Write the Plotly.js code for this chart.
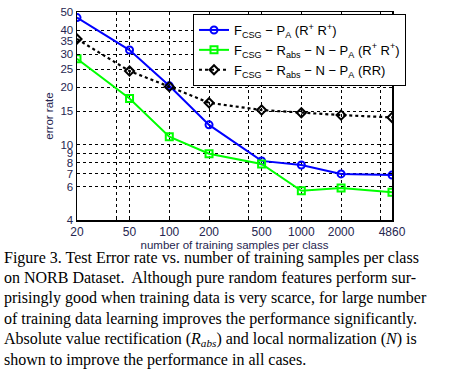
<!DOCTYPE html>
<html>
<head>
<meta charset="utf-8">
<script src="https://cdn.plot.ly/plotly-3.0.1.min.js"></script>
<style>
html,body{margin:0;padding:0;background:#fff;}
#chart{width:458px;height:371px;}
</style>
</head>
<body>
<div id="chart"></div>
<script>
// Data
const samples = [20, 50, 100, 200, 500, 1000, 2000, 4860];
const errPA = [46.7, 31.5, 20.4, 12.7, 8.2, 7.8, 7.0, 6.9];
const errRabsNPA = [28.3, 17.5, 11.0, 8.95, 7.9, 5.7, 5.9, 5.6];
const errRabsNPARR = [36.0, 24.4, 20.2, 16.6, 15.2, 14.7, 14.3, 13.9];

const xTickVals = [20, 40, 50, 100, 200, 400, 500, 1000, 2000, 4000, 4860];
const xTickText = ['20', '', '50', '100', '200', '', '500', '1000', '2000', '', '4860'];
const yTickVals = [4, 6, 7, 8, 9, 10, 15, 20, 25, 30, 35, 40, 50];
const yTickText = ['4', '6', '7', '8', '9', '10', '15', '20', '25', '30', '35', '40', '50'];

const seriesNames = [
  'F<sub>CSG</sub> − P<sub>A</sub> (R<sup>+</sup> R<sup>+</sup>)',
  'F<sub>CSG</sub> − R<sub>abs</sub> − N − P<sub>A</sub> (R<sup>+</sup> R<sup>+</sup>)',
  'F<sub>CSG</sub> − R<sub>abs</sub> − N − P<sub>A</sub> (RR)'
];

const captionLines = [
  'Figure 3. Test Error rate vs. number of training samples per class',
  'on NORB Dataset.  Although pure random features perform sur-',
  'prisingly good when training data is very scarce, for large number',
  'of training data learning improves the performance significantly.',
  'Absolute value rectification (<i>R</i><sub><i>abs</i></sub>) and local normalization (<i>N</i>) is',
  'shown to improve the performance in all cases.'
];

const traces = [
  {x: samples, y: errPA, name: seriesNames[0], mode: 'lines+markers',
   line: {color: '#0000ff', width: 2},
   marker: {symbol: 'circle-open', size: 7, color: '#0000ff', line: {width: 2, color: '#0000ff'}}},
  {x: samples, y: errRabsNPA, name: seriesNames[1], mode: 'lines+markers',
   line: {color: '#00ff00', width: 2},
   marker: {symbol: 'square-open', size: 7, color: '#00ff00', line: {width: 2, color: '#00ff00'}}},
  {x: samples, y: errRabsNPARR, name: seriesNames[2], mode: 'lines+markers',
   line: {color: '#000000', width: 2.2, dash: 'dot'},
   marker: {symbol: 'diamond-open', size: 7, color: '#000000', line: {width: 2, color: '#000000'}}}
];

const L = 77, R = 392, T = 12, B = 220, W = 458, H = 371;
const pw = R - L, ph = B - T;
const px2x = p => (p - L) / pw;
const py2y = p => (B - p) / ph;

const annotations = captionLines.map((t, i) => ({
  text: t, xref: 'paper', yref: 'paper',
  x: px2x(2), y: py2y(257.5 + i * 20.4),
  xanchor: 'left', yanchor: 'middle', align: 'left', showarrow: false,
  font: {family: 'Liberation Serif, Times New Roman, serif', size: 16, color: '#000'}
}));

const tickFont = {family: 'Liberation Sans, Arial, sans-serif', size: 12, color: '#262650'};
const yTickFont = {family: 'Liberation Sans, Arial, sans-serif', size: 11.5, color: '#262650'};

const layout = {
  width: W, height: H,
  margin: {l: L, r: W - R, t: T, b: H - B, pad: 0},
  paper_bgcolor: '#fff', plot_bgcolor: '#fff',
  showlegend: true,
  legend: {
    x: px2x(193), y: py2y(14), xanchor: 'left', yanchor: 'top',
    bgcolor: '#fff', bordercolor: '#000', borderwidth: 1,
    font: {family: 'Liberation Sans, Arial, sans-serif', size: 13, color: '#000'},
    tracegroupgap: 0, itemwidth: 30
  },
  xaxis: {
    type: 'log', range: [Math.log10(20), Math.log10(4860)],
    tickmode: 'array', tickvals: xTickVals, ticktext: xTickText, tickangle: 0,
    showgrid: true, gridcolor: '#000', griddash: 'dot', gridwidth: 1,
    showline: true, linecolor: '#000', linewidth: 1.5, mirror: 'ticks',
    ticks: 'inside', ticklen: 3, tickcolor: '#000',
    tickfont: tickFont, zeroline: false, automargin: false,
    title: {text: 'number of training samples per class', standoff: 0,
            font: {family: 'Liberation Sans, Arial, sans-serif', size: 11.5, color: '#262650'}}
  },
  yaxis: {
    type: 'log', range: [Math.log10(4), Math.log10(50)],
    tickmode: 'array', tickvals: yTickVals, ticktext: yTickText,
    showgrid: true, gridcolor: '#000', griddash: 'dot', gridwidth: 1,
    showline: true, linecolor: '#000', linewidth: 1.5, mirror: 'ticks',
    ticks: 'inside', ticklen: 3, tickcolor: '#000',
    tickfont: yTickFont, zeroline: false, automargin: false,
    title: {text: 'error rate', standoff: 4,
            font: {family: 'Liberation Sans, Arial, sans-serif', size: 11.5, color: '#262650'}}
  },
  annotations: annotations
};

Plotly.newPlot('chart', traces, layout, {displayModeBar: false, staticPlot: true});
</script>
</body>
</html>
